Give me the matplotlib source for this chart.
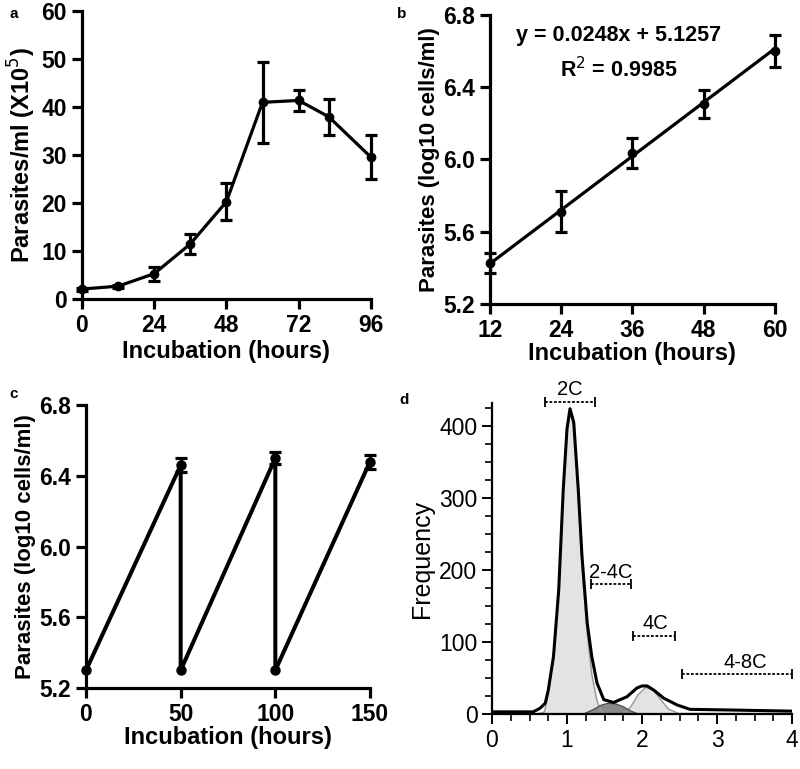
import matplotlib
matplotlib.use("Agg")
import matplotlib.pyplot as plt

plt.rcParams['font.family'] = ['Liberation Sans', 'DejaVu Sans']

# panel a: growth curve
a_hours = [0, 12, 24, 36, 48, 60, 72, 82, 96]
a_mean = [2.1, 2.7, 5.3, 11.5, 20.3, 41.0, 41.4, 38.0, 29.6]
a_err = [0.3, 0.3, 1.5, 2.1, 3.9, 8.5, 2.2, 3.8, 4.5]

# panel b: log phase with regression
b_hours = [12, 24, 36, 48, 60]
b_mean = [5.425, 5.711, 6.038, 6.307, 6.600]
b_err = [0.055, 0.113, 0.083, 0.075, 0.090]
b_slope = 0.0248
b_intercept = 5.1257
b_r2 = 0.9985

# panel c: subculture cycles
c_hours = [0, 50, 50, 100, 100, 150]
c_mean = [5.30, 6.46, 5.30, 6.50, 5.30, 6.48]
c_err = [0, 0.04, 0, 0.035, 0, 0.04]

# panel d: DNA content histogram
d_total_x = [0, 0.3, 0.55, 0.64, 0.71, 0.75, 0.82, 0.89, 0.95, 1.0, 1.04, 1.09, 1.15,
             1.2, 1.27, 1.33, 1.4, 1.49, 1.62, 1.8, 1.93, 2.0, 2.07, 2.16, 2.29, 2.47,
             2.64, 3.22, 4.0]
d_total_y = [3, 3, 3, 8, 15, 33, 80, 173, 312, 396, 424, 405, 312,
             219, 126, 80, 43, 20, 16, 24, 36, 39, 39, 33, 22, 12.5,
             6.5, 5.5, 4]
d_2c_x = [0.6, 0.7, 0.75, 0.82, 0.89, 0.95, 1.0, 1.04, 1.09, 1.15, 1.2, 1.27, 1.33, 1.4, 1.45, 1.5]
d_2c_y = [0, 3, 28, 78, 170, 310, 395, 422, 402, 305, 205, 110, 55, 18, 5, 0]
d_s_x = [1.22, 1.35, 1.45, 1.55, 1.65, 1.75, 1.85, 1.95]
d_s_y = [0, 6, 12, 15, 14, 10, 4, 0]
d_4c_x = [1.75, 1.85, 1.95, 2.05, 2.15, 2.25, 2.35, 2.5]
d_4c_y = [0, 10, 27, 37, 33, 20, 7, 0]
d_8c_x = [2.5, 4.0]
d_8c_y = [2, 2]
gate_names = ['2C', '2-4C', '4C', '4-8C']
gate_lo = [0.71, 1.32, 1.88, 2.53]
gate_hi = [1.37, 1.85, 2.44, 4.0]
gate_y = [434, 181, 109, 55]
gate_text_x = [1.04, 1.58, 2.18, 3.38]

fig = plt.figure(figsize=(8, 7.69), dpi=100)

LW = 2.3
TICK_FS = 16.5
LAB_FS = 17


def style_graphpad(ax):
    for s in ['top', 'right']:
        ax.spines[s].set_visible(False)
    for s in ['left', 'bottom']:
        ax.spines[s].set_linewidth(LW)
    ax.tick_params(width=LW, length=7, labelsize=TICK_FS, direction='out', pad=4)
    for lab in ax.get_xticklabels() + ax.get_yticklabels():
        lab.set_fontweight('bold')


# a
ax = fig.add_axes([0.1025, 0.611, 0.361, 0.3745])
ax.errorbar(a_hours, a_mean, yerr=a_err, color='black', lw=LW, marker='o', ms=6,
            capsize=4, capthick=LW, elinewidth=LW, clip_on=False, zorder=3)
ax.set_xlim(0, 96)
ax.set_ylim(0, 60)
ax.set_xticks([0, 24, 48, 72, 96])
ax.set_yticks([0, 10, 20, 30, 40, 50, 60])
ax.set_xlabel('Incubation (hours)', fontsize=LAB_FS, fontweight='bold', labelpad=2)
ax.set_ylabel('Parasites/ml (X10$^{5}$)', fontsize=LAB_FS, fontweight='bold', labelpad=2)
style_graphpad(ax)

# b
ax = fig.add_axes([0.6125, 0.6047, 0.356, 0.3758])
ax.errorbar(b_hours, b_mean, yerr=b_err, color='black', lw=0, marker='o', ms=6,
            capsize=4, capthick=LW, elinewidth=LW, clip_on=False, zorder=3)
fit_x = [b_hours[0], b_hours[-1]]
ax.plot(fit_x, [b_slope * x + b_intercept for x in fit_x], color='black', lw=LW)
ax.text(33.7, 6.685, f'y = {b_slope}x + {b_intercept}', ha='center', va='center',
        fontsize=15.5, fontweight='bold')
ax.text(33.7, 6.495, f'R$^{{2}}$ = {b_r2}', ha='center', va='center',
        fontsize=15.5, fontweight='bold')
ax.set_xlim(12, 60)
ax.set_ylim(5.2, 6.8)
ax.set_xticks(b_hours)
ax.set_yticks([5.2, 5.6, 6.0, 6.4, 6.8])
ax.set_yticklabels(['5.2', '5.6', '6.0', '6.4', '6.8'])
ax.set_xlabel('Incubation (hours)', fontsize=LAB_FS, fontweight='bold', labelpad=0)
ax.set_ylabel('Parasites (log10 cells/ml)', fontsize=LAB_FS - 1, fontweight='bold', labelpad=2)
style_graphpad(ax)

# c
ax = fig.add_axes([0.1075, 0.1053, 0.355, 0.368])
ax.plot(c_hours, c_mean, color='black', lw=LW + 0.6, marker='o', ms=6.5,
        clip_on=False, zorder=3)
has_err = [i for i, e in enumerate(c_err) if e > 0]
ax.errorbar([c_hours[i] for i in has_err], [c_mean[i] for i in has_err],
            yerr=[c_err[i] for i in has_err], fmt='none', ecolor='black',
            capsize=4, capthick=LW, elinewidth=LW, clip_on=False, zorder=3)
ax.set_xlim(0, 150)
ax.set_ylim(5.2, 6.8)
ax.set_xticks([0, 50, 100, 150])
ax.set_yticks([5.2, 5.6, 6.0, 6.4, 6.8])
ax.set_yticklabels(['5.2', '5.6', '6.0', '6.4', '6.8'])
ax.set_xlabel('Incubation (hours)', fontsize=LAB_FS, fontweight='bold', labelpad=0)
ax.set_ylabel('Parasites (log10 cells/ml)', fontsize=LAB_FS - 1, fontweight='bold', labelpad=2)
style_graphpad(ax)

# d
ax = fig.add_axes([0.615, 0.0715, 0.375, 0.4045])
ax.fill_between(d_2c_x, d_2c_y, color='#e3e3e3', zorder=1)
ax.plot(d_2c_x, d_2c_y, color='#999999', lw=1, zorder=2)
ax.fill_between(d_4c_x, d_4c_y, color='#e3e3e3', zorder=1)
ax.plot(d_4c_x, d_4c_y, color='#999999', lw=1, zorder=2)
ax.fill_between(d_s_x, d_s_y, color='#8a8a8a', zorder=1)
ax.plot(d_s_x, d_s_y, color='#555555', lw=1, zorder=2)
ax.plot(d_8c_x, d_8c_y, color='#999999', lw=1, zorder=2)
ax.plot(d_total_x, d_total_y, color='black', lw=2.2, zorder=3, solid_joinstyle='round')
for name, lo, hi, gy, tx in zip(gate_names, gate_lo, gate_hi, gate_y, gate_text_x):
    ax.plot([lo, hi], [gy, gy], color='black', lw=1.3, ls=(0, (1.5, 1)), clip_on=False)
    ax.plot([lo, hi], [gy, gy], color='black', lw=0, marker='|', ms=7, mew=1.3, clip_on=False)
    ax.text(tx, gy + 3, name, ha='center', va='bottom', fontsize=14.5, clip_on=False)
ax.set_xlim(0, 4)
ax.set_ylim(0, 432)
ax.set_xticks([0, 1, 2, 3, 4])
ax.set_xticks([i * 0.25 for i in range(17)], minor=True)
ax.set_yticks([0, 100, 200, 300, 400])
ax.set_yticks([i * 25 for i in range(18)], minor=True)
for s in ['top', 'right']:
    ax.spines[s].set_visible(False)
for s in ['left', 'bottom']:
    ax.spines[s].set_linewidth(1.6)
ax.tick_params(which='major', width=1.4, length=7, labelsize=TICK_FS)
ax.tick_params(which='minor', width=1.2, length=5)
ax.set_ylabel('Frequency', fontsize=18)

# panel letters
for letter, x, y in [('a', 0.012, 0.982), ('b', 0.496, 0.982), ('c', 0.012, 0.487), ('d', 0.499, 0.480)]:
    fig.text(x, y, letter, fontsize=11, fontweight='bold', va='center')

fig.savefig('out.png', dpi=100)
